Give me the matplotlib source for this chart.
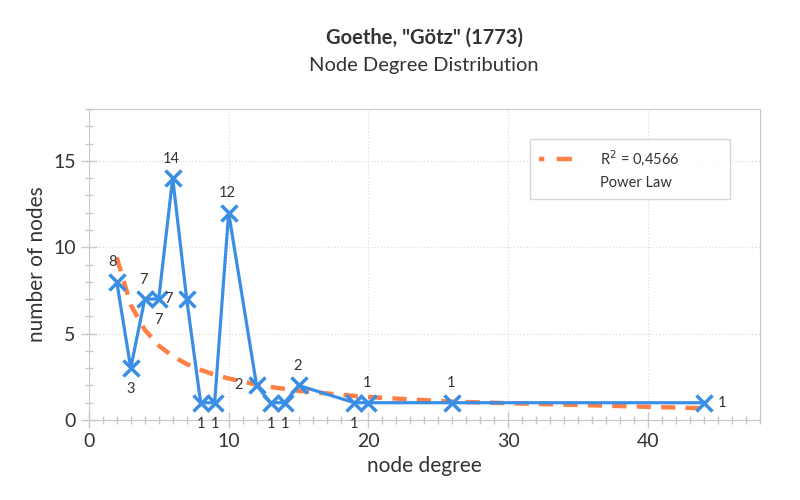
import matplotlib
matplotlib.use("Agg")
import matplotlib.pyplot as plt
from matplotlib.lines import Line2D
from matplotlib.ticker import MultipleLocator

plt.rcParams['font.family'] = ['Lato', 'DejaVu Sans']

# degree distribution
degree = [2, 3, 4, 5, 6, 7, 8, 9, 10, 12, 13, 14, 15, 19, 20, 26, 44]
count = [8, 3, 7, 7, 14, 7, 1, 1, 12, 2, 1, 1, 2, 1, 1, 1, 1]
# power law fit
fit = [9.4, 6.66, 5.22, 4.31, 3.69, 3.24, 2.90, 2.62, 2.40, 2.05, 1.91,
       1.80, 1.69, 1.39, 1.33, 1.06, 0.68]
r2_label = 'R$^2$ = 0,4566'

# where each value label sits relative to its point
label_pos = ['upleft', 'down', 'up', 'down', 'up', 'left', 'down', 'down', 'up',
             'left', 'down', 'down', 'up', 'down', 'up', 'up', 'right']
offsets = {'up': (-1, 14), 'upleft': (-3, 14), 'down': (0, -15),
           'left': (-13, 0), 'right': (13, 0)}

blue = '#3a8ee6'
orange = '#ff7f45'
txt = '#333333'
gray = '#c8c8c8'

fig = plt.figure(figsize=(8, 5), dpi=100)
ax = fig.add_axes([0.111, 0.16, 0.839, 0.622])

ax.plot(degree, fit, color=orange, lw=3.2, ls=(0, (3.2, 2.3)), zorder=2)
ax.plot(degree, count, color=blue, lw=2.3, marker='x', ms=12, mew=2.5, zorder=3)

for x, y, p in zip(degree, count, label_pos):
    ax.annotate(str(y), (x, y), xytext=offsets[p], textcoords='offset points',
                ha='center', va='center', fontsize=10.5, color=txt)

ax.set_xlim(0, 48)
ax.set_ylim(0, 18)
ax.xaxis.set_major_locator(MultipleLocator(10))
ax.xaxis.set_minor_locator(MultipleLocator(1))
ax.yaxis.set_major_locator(MultipleLocator(5))
ax.yaxis.set_minor_locator(MultipleLocator(1))
ax.tick_params(which='major', direction='inout', length=12, width=1, color=gray,
               labelsize=14, labelcolor=txt)
ax.tick_params(which='minor', direction='inout', length=6, width=1, color=gray)
ax.grid(which='major', color='#dddddd', ls=':', lw=0.9)
for s in ax.spines.values():
    s.set_color(gray)

ax.set_xlabel('node degree', fontsize=15, color=txt)
ax.set_ylabel('number of nodes', fontsize=15, color=txt)

handles = [Line2D([], [], color=orange, lw=3.2, ls=(0, (1.2, 2.8, 3.4, 2.8))),
           Line2D([], [], color='none')]
leg = ax.legend(handles, [r2_label, 'Power Law'], loc='upper left',
                bbox_to_anchor=(0.657, 0.0, 0.298, 0.903), mode='expand',
                fontsize=10.5, frameon=True, fancybox=False, handlelength=3.0,
                handletextpad=1.2, borderpad=0.6, labelspacing=0.55,
                borderaxespad=0)
leg.get_frame().set_edgecolor('#cccccc')
leg.get_frame().set_linewidth(1)
for t in leg.get_texts():
    t.set_color(txt)

fig.text(0.53, 0.925, 'Goethe, "Götz" (1773)', ha='center', va='center',
         fontsize=14.5, fontweight='bold', color=txt)
fig.text(0.53, 0.87, 'Node Degree Distribution', ha='center', va='center',
         fontsize=14.5, color=txt)

fig.savefig('out.png', dpi=100)
